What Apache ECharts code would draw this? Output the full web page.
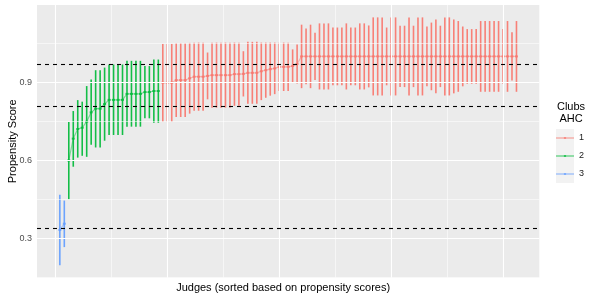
<!DOCTYPE html>
<html><head><meta charset="utf-8">
<script src="https://cdn.jsdelivr.net/npm/echarts@6/dist/echarts.min.js"></script>
<style>html,body{margin:0;padding:0;background:#fff}#c{width:600px;height:300px}</style>
</head><body><div id="c"></div>
<script>
// ---- data ----
const clusterNames = ['1', '2', '3'];
const clusterColors = ['#F8766D', '#00BA38', '#619CFF'];
// first judge rank (x position) of each cluster, judges are sorted by propensity
const firstJudge = [24, 3, 1];

// cluster 1 (red), judges 24..103
const center1 = [0.899,0.899,0.899,0.909,0.909,0.909,0.916,0.922,0.922,0.922,
  0.925,0.928,0.928,0.928,0.928,0.928,0.932,0.932,0.933,0.937,
  0.937,0.937,0.943,0.947,0.951,0.954,0.960,0.960,0.960,0.963,
  0.971,
  1.0,1.0,1.0,1.0,1.0,1.0,1.0,1.0,1.0,1.0,
  1.0,1.0,1.0,1.0,1.0,1.0,1.0,1.0,1.0,1.0,
  1.0,1.0,1.0,1.0,1.0,1.0,1.0,1.0,1.0,1.0,
  1.0,1.0,1.0,1.0,1.0,1.0,1.0,1.0,1.0,1.0,
  1.0,1.0,1.0,1.0,1.0,1.0,1.0,1.0,1.0];
const low1 = [0.749,0.749,0.749,0.767,0.767,0.767,0.780,0.791,0.791,0.791,
  0.835,0.803,0.803,0.803,0.803,0.803,0.810,0.810,0.846,0.818,
  0.818,0.818,0.832,0.841,0.849,0.855,0.867,0.867,0.867,0.899,
  0.896,
  0.878,0.893,0.878,0.909,0.873,0.873,0.873,0.889,0.889,0.889,
  0.873,0.889,0.889,0.873,0.873,0.881,0.850,0.850,0.850,0.889,
  0.850,0.850,0.882,0.882,0.850,0.882,0.850,0.850,0.885,0.870,
  0.858,0.882,0.850,0.850,0.858,0.864,0.885,0.895,0.895,0.895,
  0.864,0.864,0.864,0.864,0.864,0.895,0.864,0.907,0.864];
const high1 = [1.048,1.048,1.048,1.051,1.051,1.051,1.052,1.053,1.053,1.053,
  1.015,1.053,1.053,1.053,1.053,1.053,1.053,1.053,1.020,1.056,
  1.056,1.056,1.053,1.053,1.053,1.053,1.053,1.053,1.053,1.027,
  1.046,
  1.122,1.107,1.122,1.091,1.127,1.127,1.127,1.111,1.111,1.111,
  1.127,1.111,1.111,1.127,1.127,1.119,1.150,1.150,1.150,1.111,
  1.150,1.150,1.118,1.118,1.150,1.118,1.150,1.150,1.115,1.130,
  1.142,1.118,1.150,1.150,1.142,1.136,1.115,1.105,1.105,1.105,
  1.136,1.136,1.136,1.136,1.136,1.105,1.136,1.093,1.136];

// cluster 2 (green), judges 3..23
const center2 = [0.600,0.684,0.721,0.726,0.749,0.785,0.799,0.799,0.817,0.833,
  0.833,0.833,0.833,0.856,0.856,0.856,0.856,0.863,0.863,0.867,0.867];
const low2 = [0.451,0.576,0.611,0.618,0.614,0.660,0.650,0.650,0.676,0.698,
  0.698,0.698,0.698,0.730,0.730,0.730,0.730,0.762,0.762,0.745,0.745];
const high2 = [0.748,0.790,0.832,0.826,0.886,0.911,0.947,0.947,0.957,0.969,
  0.969,0.969,0.969,0.983,0.983,0.983,0.983,0.963,0.963,0.988,0.988];

// cluster 3 (blue), judges 1..2
const center3 = [0.333, 0.357];
const low3 = [0.197, 0.267];
const high3 = [0.468, 0.446];

// dashed cut-off lines
const thresholds = [0.974, 0.805, 0.345];

// axis ticks / gridlines
const yTicks = [0.3, 0.6, 0.9];
const yMinor = [0.15, 0.45, 0.75, 1.05];
const xMajor = [0, 25, 50, 75, 100];
const xMinor = [12.5, 37.5, 62.5, 87.5];

// ---- build ----
const centers = [center1, center2, center3];
const lows = [low1, low2, low3];
const highs = [high1, high2, high3];

// ggplot-like 5% expansion of data ranges
const allLow = [].concat(low1, low2, low3), allHigh = [].concat(high1, high2, high3);
const yLo = Math.min(...allLow), yHi = Math.max(...allHigh);
const yMin = yLo - 0.05 * (yHi - yLo), yMax = yHi + 0.05 * (yHi - yLo);
const nJudges = center1.length + center2.length + center3.length;
const xMin = 1 - 0.05 * (nJudges - 1), xMax = nJudges + 0.05 * (nJudges - 1);

const series = [];
// gridlines
series.push({
  type: 'line', name: 'grid', data: [], silent: true, z: 1,
  markLine: {
    silent: true, symbol: 'none', animation: false, label: {show: false},
    lineStyle: {color: '#ffffff', width: 1.1, type: 'solid'},
    data: yTicks.map(v => ({yAxis: v})).concat(xMajor.map(v => ({xAxis: v})))
  }
});
series.push({
  type: 'line', name: 'gridMinor', data: [], silent: true, z: 1,
  markLine: {
    silent: true, symbol: 'none', animation: false, label: {show: false},
    lineStyle: {color: '#ffffff', width: 0.55, type: 'solid'},
    data: yMinor.map(v => ({yAxis: v})).concat(xMinor.map(v => ({xAxis: v})))
  }
});

for (let g = 2; g >= 0; g--) {
  const color = clusterColors[g];
  const data = lows[g].map((l, i) => [firstJudge[g] + i, l, highs[g][i]]);
  series.push({
    type: 'custom', name: 'range' + clusterNames[g], silent: true, z: 3,
    data: data, encode: {x: 0, y: [1, 2]},
    renderItem: function (params, api) {
      const x = api.value(0);
      const p1 = api.coord([x, api.value(1)]);
      const p2 = api.coord([x, api.value(2)]);
      return {type: 'line', shape: {x1: p1[0], y1: p1[1], x2: p2[0], y2: p2[1]},
        style: {stroke: color, lineWidth: 1.6, opacity: 0.92}};
    }
  });
  series.push({
    type: 'line', name: clusterNames[g], silent: true, z: 4,
    data: centers[g].map((c, i) => [firstJudge[g] + i, c]),
    symbol: 'rect', symbolSize: [3, 2], showSymbol: true,
    itemStyle: {color: color, opacity: 0.8},
    lineStyle: {color: color, width: 1.2, opacity: 0.45}
  });
}

series.push({
  type: 'line', name: 'thresholds', data: [], silent: true, z: 10,
  markLine: {
    silent: true, symbol: 'none', animation: false, label: {show: false},
    lineStyle: {color: '#000000', width: 1.1, type: [4, 4], opacity: 1},
    data: thresholds.map(v => ({yAxis: v}))
  }
});

const legendIcon = 'path://M0,0L0,0M18,18L18,18M0,8.4H18V9.6H0Z M7.9,7.9H10.1V10.1H7.9Z';

const chart = echarts.init(document.getElementById('c'), null, {renderer: 'canvas'});
chart.setOption({
  animation: false,
  textStyle: {fontFamily: 'Liberation Sans, Arial, sans-serif'},
  grid: {left: 37, right: 60.7, top: 5, bottom: 22.3, show: true,
    backgroundColor: '#EBEBEB', borderWidth: 0,
    containLabel: false, outerBoundsMode: 'none'},
  xAxis: {
    type: 'value', min: xMin, max: xMax,
    name: 'Judges (sorted based on propensity scores)', nameLocation: 'middle', nameGap: 5,
    nameMoveOverlap: false,
    nameTextStyle: {fontSize: 11, color: '#000', verticalAlign: 'top', padding: [0, 10, 0, 0]},
    axisLine: {show: false}, axisTick: {show: false}, axisLabel: {show: false},
    splitLine: {show: false}
  },
  yAxis: {
    type: 'value', min: yMin, max: yMax,
    name: 'Propensity Score', nameLocation: 'middle', nameGap: 19,
    nameMoveOverlap: false,
    nameTextStyle: {fontSize: 11, color: '#000'},
    axisLine: {show: false},
    axisTick: {show: true, length: 3, customValues: yTicks, lineStyle: {color: '#333333', width: 1}},
    axisLabel: {show: true, customValues: yTicks, margin: 5, fontSize: 9, color: '#4D4D4D',
      formatter: v => v.toFixed(1)},
    splitLine: {show: false}
  },
  legend: {
    orient: 'vertical', left: 556, top: 129, itemWidth: 18, itemHeight: 18, itemGap: 0,
    padding: 0, selectedMode: false,
    textStyle: {fontSize: 9, color: '#1A1A1A'},
    data: clusterNames.map(n => ({name: n, icon: legendIcon}))
  },
  graphic: [
    {type: 'rect', left: 556, top: 129, z: -1, silent: true,
      shape: {width: 18, height: 54}, style: {fill: '#F2F2F2'}},
    {type: 'text', x: 571, y: 101, silent: true,
      style: {text: 'Clubs\nAHC', font: '11px "Liberation Sans", Arial, sans-serif',
        fill: '#000', align: 'center', verticalAlign: 'top', lineHeight: 12}}
  ],
  series: series
});
</script>
</body></html>
